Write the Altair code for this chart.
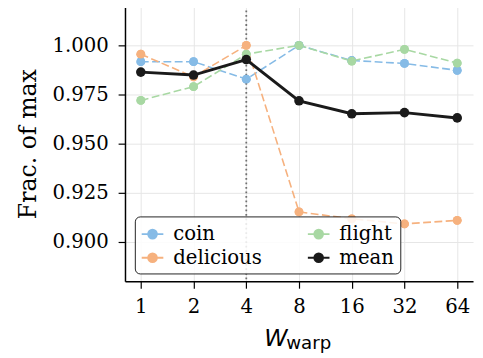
import altair as alt
import pandas as pd

x_vals = [1, 2, 4, 8, 16, 32, 64]
coin = [0.9917, 0.9917, 0.9828, 1.000, 0.9923, 0.9908, 0.9873]
delicious = [0.9955, 0.9840, 1.000, 0.9153, 0.9118, 0.9092, 0.9110]
flight = [0.9720, 0.9790, 0.9955, 1.000, 0.9920, 0.9980, 0.9910]
mean = [0.9864, 0.9849, 0.9928, 0.9718, 0.9652, 0.9658, 0.9631]
series_names = ["coin", "delicious", "flight", "mean"]
series_colors = ["#86bbe6", "#f6b17e", "#a8d8a3", "#1a1a1a"]
y_ticks = [0.900, 0.925, 0.950, 0.975, 1.000]
vline = [4]

SERIF = "DejaVu Serif"

rows = []
for name, vals in [("coin", coin), ("delicious", delicious), ("flight", flight)]:
    for xv, yv in zip(x_vals, vals):
        rows.append({"x": xv, "y": yv, "series": name})
df_dash = pd.DataFrame(rows)
df_mean = pd.DataFrame({"x": x_vals, "y": mean, "series": ["mean"] * len(x_vals)})
df_v = pd.DataFrame({"x": vline})

sym = "M-1,0L1,0M-0.4,0A0.4,0.4,0,1,1,0.4,0A0.4,0.4,0,1,1,-0.4,0Z"

xscale = alt.Scale(type="log", base=2, domain=[2 ** -0.3, 2 ** 6.3], nice=False)
yscale = alt.Scale(domain=[0.88, 1.02], nice=False, zero=False)
cscale = alt.Scale(domain=series_names, range=series_colors)

axis_common = dict(labelFont=SERIF, labelFontSize=20, labelColor="black",
                   domainColor="black", domainWidth=1.5, tickColor="black",
                   tickWidth=1.2, tickSize=7, gridColor="#e6e6e6", gridWidth=1)
xenc = alt.X("x:Q", scale=xscale,
             axis=alt.Axis(values=x_vals, format="d", title=None, labelPadding=9,
                           **axis_common))
yenc = alt.Y("y:Q", scale=yscale,
             axis=alt.Axis(values=y_ticks, format=".3f", title="Frac. of max",
                           titlePadding=12, titleFont=SERIF, titleFontSize=24,
                           titleFontWeight="normal", titleColor="black",
                           labelPadding=10, **axis_common))
legend = alt.Legend(title=None, orient="none", legendX=10, legendY=214, columns=2,
                    columnPadding=42, rowPadding=2, padding=6,
                    strokeColor="#222222", cornerRadius=5,
                    fillColor="rgba(255,255,255,0.85)",
                    symbolType=sym, symbolSize=484, symbolStrokeWidth=2,
                    labelFont=SERIF, labelFontSize=20, labelColor="black",
                    labelOffset=9)
cenc = alt.Color("series:N", scale=cscale, legend=legend)

rule = alt.Chart(df_v).mark_rule(color="#707070", strokeWidth=1.8,
                                 strokeDash=[1.8, 2.8]).encode(x=alt.X("x:Q", scale=xscale))

dash_pts = alt.Chart(df_dash).mark_point(filled=True, size=80, opacity=1).encode(
    x=xenc, y=yenc, color=cenc)
dash_lines = alt.Chart(df_dash).mark_line(strokeWidth=1.6, strokeDash=[8, 3.5]).encode(
    x=xenc, y=yenc, color=cenc, detail="series:N")
mean_line = alt.Chart(df_mean).mark_line(strokeWidth=3).encode(
    x=xenc, y=yenc, color=cenc)
mean_pts = alt.Chart(df_mean).mark_point(filled=True, size=95, opacity=1).encode(
    x=xenc, y=yenc, color=cenc)

title_w = alt.Chart(pd.DataFrame({"t": ["W"]})).mark_text(
    font="DejaVu Sans", fontStyle="italic", fontSize=24, align="center",
    baseline="alphabetic", color="black").encode(
    text="t:N", x=alt.value(153.5), y=alt.value(345.3))
title_sub = alt.Chart(pd.DataFrame({"t": ["warp"]})).mark_text(
    font="DejaVu Sans", fontSize=18.5, align="left",
    baseline="alphabetic", color="black").encode(
    text="t:N", x=alt.value(164), y=alt.value(348.7))

chart = alt.layer(dash_pts, rule, dash_lines, dash_pts, mean_line, mean_pts,
                  title_w, title_sub).properties(
    width=354, height=280,
    autosize=alt.AutoSizeParams(type="none"),
    padding={"left": 119, "top": -5, "right": 2, "bottom": 75},
    background="white",
).configure(font=SERIF).configure_view(stroke=None)

chart.save("out.html", embed_options={"renderer": "svg", "actions": False})
